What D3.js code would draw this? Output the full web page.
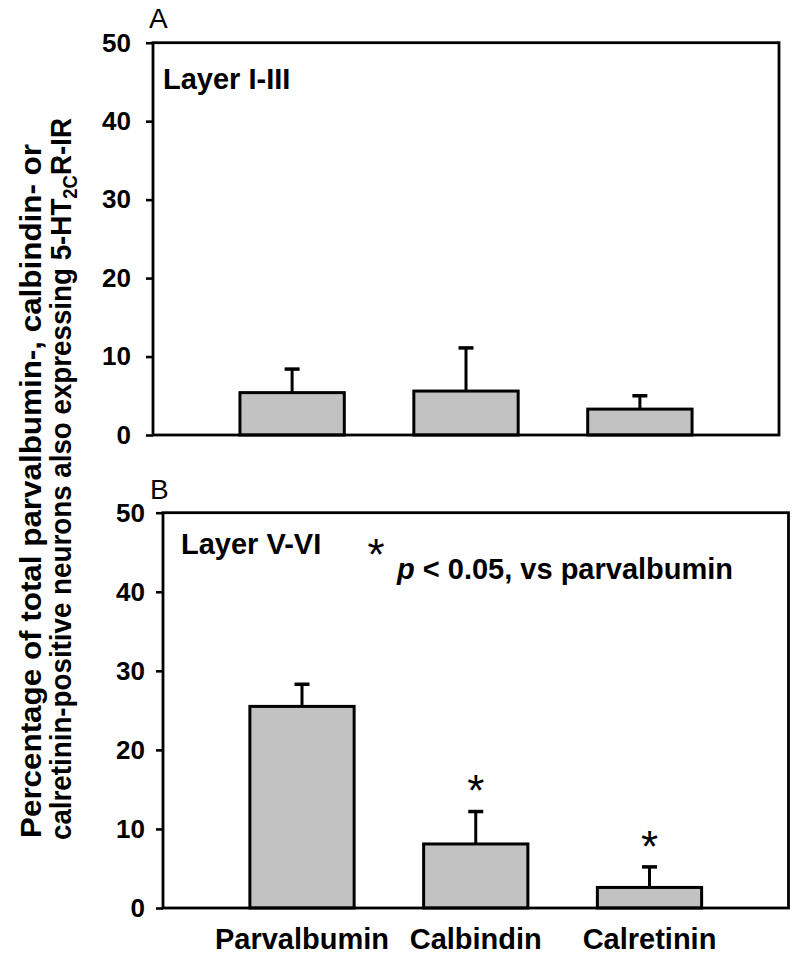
<!DOCTYPE html>
<html>
<head>
<meta charset="utf-8">
<script src="https://cdn.jsdelivr.net/npm/d3@7"></script>
<style>
  html, body { margin: 0; padding: 0; background: #fff; }
  svg { display: block; }
  text { font-family: "Liberation Sans", Arial, Helvetica, sans-serif; font-weight: bold; fill: #000; }
</style>
</head>
<body>
<svg id="chart" width="800" height="958"></svg>
<script>
// ---- data ----
const categories = ["Parvalbumin", "Calbindin", "Calretinin"];
const yTicks = [0, 10, 20, 30, 40, 50];

// Panel A: Layer I-III
const layerA_mean = [5.4, 5.6, 3.3];
const layerA_upper = [8.4, 11.1, 5.0];   // top of error bar (mean + SEM)

// Panel B: Layer V-VI
const layerB_mean = [25.5, 8.1, 2.6];
const layerB_upper = [28.3, 12.2, 5.2];
const layerB_sig = [false, true, true];  // * p < 0.05 vs parvalbumin

const panelLabels = ["A", "B"];
const layerLabels = ["Layer I-III", "Layer V-VI"];

// ---- drawing ----
const svg = d3.select("#chart");
const FILL = "#c2c2c2";
const STAR = 44;
const STAR_C = 0.47; // glyph centre above baseline, in em

const panels = [
  { letter: panelLabels[0], layer: layerLabels[0], mean: layerA_mean, upper: layerA_upper, sig: null,
    left: 153, right: 779, top: 42.7, bottom: 435, tickPad: 15, layerX: 163, layerY: 89, letterX: 149, letterY: 28 },
  { letter: panelLabels[1], layer: layerLabels[1], mean: layerB_mean, upper: layerB_upper, sig: layerB_sig,
    left: 163, right: 788.5, top: 512.7, bottom: 908, tickPad: 11, layerX: 181, layerY: 554, letterX: 150, letterY: 499 }
];

panels.forEach((p, pi) => {
  const g = svg.append("g");
  const x = d3.scaleBand().domain(categories).range([p.left, p.right]).paddingInner(0.4).paddingOuter(0.5);
  const y = d3.scaleLinear().domain([0, 50]).range([p.bottom, p.top]);

  // y axis
  const ax = g.append("g").attr("transform", `translate(${p.left},0)`)
    .call(d3.axisLeft(y).tickValues(yTicks).tickSize(7).tickPadding(p.tickPad).tickFormat(d3.format("d")));
  ax.select(".domain").remove();
  ax.selectAll(".tick line").attr("stroke", "#000").attr("stroke-width", 2.6);
  ax.selectAll(".tick text").style("font-size", "26px").attr("fill", "#000");

  // bars
  const idx = d3.range(categories.length);
  g.selectAll("rect.bar").data(idx).join("rect").attr("class", "bar")
    .attr("x", i => x(categories[i]))
    .attr("width", x.bandwidth())
    .attr("y", i => y(p.mean[i]))
    .attr("height", i => y(0) - y(p.mean[i]))
    .attr("fill", FILL).attr("stroke", "#000").attr("stroke-width", 3);

  // error bars
  const cx = i => x(categories[i]) + x.bandwidth() / 2;
  g.selectAll("line.err").data(idx).join("line").attr("class", "err")
    .attr("x1", cx).attr("x2", cx)
    .attr("y1", i => y(p.mean[i])).attr("y2", i => y(p.upper[i]))
    .attr("stroke", "#000").attr("stroke-width", 3);
  g.selectAll("line.cap").data(idx).join("line").attr("class", "cap")
    .attr("x1", i => cx(i) - 7.5).attr("x2", i => cx(i) + 7.5)
    .attr("y1", i => y(p.upper[i])).attr("y2", i => y(p.upper[i]))
    .attr("stroke", "#000").attr("stroke-width", 3.5);

  // significance stars (glyph centre ~26px above error cap)
  if (p.sig) {
    g.selectAll("text.star").data(idx.filter(i => p.sig[i])).join("text").attr("class", "star")
      .attr("x", cx).attr("y", i => y(p.upper[i]) - 26 + STAR_C * STAR)
      .attr("text-anchor", "middle")
      .style("font-size", STAR + "px").style("font-weight", "normal").text("*");
  }

  // frame
  g.append("rect").attr("x", p.left).attr("y", p.top)
    .attr("width", p.right - p.left).attr("height", p.bottom - p.top)
    .attr("fill", "none").attr("stroke", "#000").attr("stroke-width", 2.8);

  // labels
  g.append("text").attr("x", p.letterX).attr("y", p.letterY).style("font-size", "28px").style("font-weight", "normal").text(p.letter);
  g.append("text").attr("x", p.layerX).attr("y", p.layerY).style("font-size", "29px").text(p.layer);

  if (pi === 1) {
    // legend for significance
    g.append("text").attr("x", 376).attr("y", 549 + STAR_C * STAR).attr("text-anchor", "middle")
      .style("font-size", STAR + "px").style("font-weight", "normal").text("*");
    const t = g.append("text").attr("x", 397).attr("y", 579).style("font-size", "29px");
    t.append("tspan").style("font-style", "italic").text("p");
    t.append("tspan").text(" < 0.05, vs parvalbumin");

    // category labels
    g.selectAll("text.cat").data(idx).join("text").attr("class", "cat")
      .attr("x", cx).attr("y", 949).attr("text-anchor", "middle")
      .style("font-size", "29px").text(i => categories[i]);
  }
});

// y axis title (two lines)
const yt = svg.append("g");
yt.append("text").attr("transform", "translate(41,838) rotate(-90)").style("font-size", "30px")
  .attr("textLength", 694).attr("lengthAdjust", "spacingAndGlyphs")
  .text("Percentage of total parvalbumin-, calbindin- or");
const l2 = yt.append("text").attr("transform", "translate(71,840) rotate(-90)").style("font-size", "30px")
  .attr("textLength", 722).attr("lengthAdjust", "spacingAndGlyphs");
l2.append("tspan").text("calretinin-positive neurons also expressing 5-HT");
l2.append("tspan").attr("dy", 6).style("font-size", "20px").text("2C");
l2.append("tspan").attr("dy", -6).text("R-IR");
</script>
</body>
</html>
